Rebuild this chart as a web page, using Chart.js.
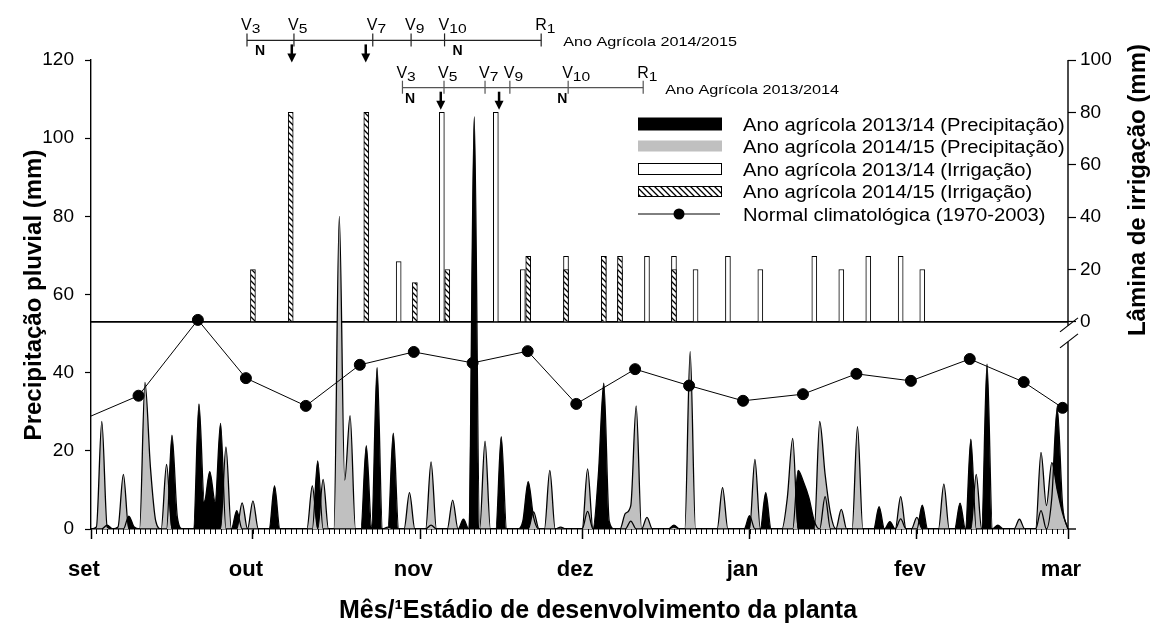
<!DOCTYPE html>
<html>
<head>
<meta charset="utf-8">
<script src="https://cdn.jsdelivr.net/npm/chart.js@4.4.1/dist/chart.umd.min.js"></script>
<style>
  body { margin: 0; background: #fff; }
  #wrap { width: 1168px; height: 628px; }
</style>
</head>
<body>
<div id="wrap"><canvas id="chart" width="1168" height="628"></canvas></div>
<script>
// x axis = days counted from 1 September (0) to 1 March (181)
const monthDays = [0, 30, 61, 91, 122, 153, 181];
const monthLabels = ['set', 'out', 'nov', 'dez', 'jan', 'fev', 'mar'];

// daily rainfall (mm), one row per month
const precip1314 = [
  0,0,0,1,0,0,0,3.3,0.5,0,0,0,0,0,0,24,3,0,0,0,32,7,14.7,7,27,0,0,4.7,0,0,             // set
  0,0,0,0,11,0,0,0,0,0,0,0,17.4,0,0,0,0,0,0,0,0,21.3,0.5,41.3,0,0,24.5,0,0,0,0,        // out
  0,0,1,0,0,0,0,0,2.5,0,105.5,0,0,0,0,23.6,0,0,0,2,12.1,3,0,0,0,0,0,0,0,0,             // nov
  0,4.5,0,14,37.3,2,0,0,0,2,0,0,0,0,0,0,0,1,0,0,0,0,0,0,0,0,0,0,0,0,0,                 // dez
  3.4,0,0,9.3,0,0,0,0,0,15,12,8,2,0,8.3,0,0,0,0,0,0,0,0,0,5.7,0,1.9,0,2.6,0,0,         // jan
  0,6.1,0,0,0,0,0,0,6.6,0,23,0,0,42.2,0,1,0,0,0,0,0,0,0,4.7,0,8,31,6,                  // fev
  0                                                                                  // mar
];
const precip1415 = [
  0,0.5,27.5,0.5,0,0.5,14,0,0,0,37.5,16,2,0,16.5,0,0,0,0,0,0,0,0,0,0,21,0,0,6.7,0,     // set
  7.2,0,0,0,0,0,0,0,0,0,0,11,0,12.7,0,0,80,12.5,29,0,0,0,0,0,0,0.5,0,0,0,9.3,0,        // out
  0,0,17.2,0,0,0,7.4,0,0,0,0,0,22.5,0,0,0,0,0,0,0,0,4.4,0,0,15,0,0.5,0,0,0,            // nov
  0,15.4,0,0,0,0,0,0,4,6,31.5,0,3,0,0,0,0,0.5,0,0,45.4,0,0,0,0,0,10.6,0,0,0,0,         // dez
  0,17.8,0,0,0,0,0,8,23.2,0,0,0,0,27.5,14,4,0,5,0,0,26.2,0,0,0,0,0,0,0,8.3,0,0,        // jan
  3,0,0,0,0,11.5,0,0,0,0,0,14,0,0,0,0,0,0,0,2.5,0,0,0,19.6,6,17,10,4,                  // fev
  0                                                                                  // mar
];

// irrigation depth (mm)
const irrig1314Days = [57, 65, 75, 80, 88, 95, 98, 103, 108, 112, 118, 124, 134, 139, 144, 150, 154];
const irrig1314Vals = [23, 80, 80, 20, 25, 25, 20, 25, 25, 20, 25, 20, 25, 20, 25, 25, 20];
const irrig1415Days = [30, 37, 51, 60, 66, 81, 88, 95, 98, 108];
const irrig1415Vals = [20, 80, 80, 15, 20, 25, 20, 25, 25, 20];

// climatological normal 1970-2003, by ten-day period
const normalDays = [0, 8.8, 19.8, 28.7, 39.8, 49.8, 59.8, 70.7, 80.9, 89.9, 100.8, 110.8, 120.8, 131.9, 141.8, 151.9, 162.8, 172.8, 180];
const normalVals = [28.9, 34.1, 53.5, 38.6, 31.5, 42.0, 45.3, 42.5, 45.5, 32.0, 40.9, 36.7, 32.8, 34.5, 39.7, 37.9, 43.5, 37.6, 31.0];

// phenological stages (day positions)
const stageLabels = ['V3', 'V5', 'V7', 'V9', 'V10', 'R1'];
const stages1415 = [28.9, 37.6, 52.2, 59.3, 65.5, 83.4];
const stages1314 = [57.7, 65.4, 73.0, 77.6, 88.4, 102.3];
const arrows1415 = [37.2, 50.9];
const arrows1314 = [64.8, 75.6];
const nDays1415 = [31.3, 67.9];
const nDays1314 = [59.1, 87.3];

const leftTicks = [0, 20, 40, 60, 80, 100, 120];
const irrigTicks = [0, 20, 40, 60, 80, 100];
const BREAK_AT = 53;  // left-axis value where the irrigation axis starts
const Y2_MIN = -100 * BREAK_AT / (120 - BREAK_AT);

const FONT = "'Liberation Sans', Arial, Helvetica, sans-serif";

const toXY = (days, vals) => days.map((d, i) => ({x: d, y: vals[i]}));
const daily = vals => vals.map((v, i) => ({x: i, y: v}));

// hatch pattern for 2014/15 irrigation
function makeHatch() {
  const c = document.createElement('canvas');
  c.width = 6; c.height = 6;
  const g = c.getContext('2d');
  g.fillStyle = '#fff'; g.fillRect(0, 0, 6, 6);
  g.strokeStyle = '#000'; g.lineWidth = 1.3;
  g.beginPath();
  g.moveTo(-6, 0); g.lineTo(6, 12);
  g.moveTo(-1, -1); g.lineTo(7, 7);
  g.moveTo(0, -6); g.lineTo(12, 6);
  g.stroke();
  return g.createPattern(c, 'repeat');
}
const hatch = makeHatch();

function text(ctx, str, x, y, font, sx, align) {
  ctx.save();
  ctx.font = font;
  ctx.textAlign = align || 'left';
  ctx.textBaseline = 'alphabetic';
  ctx.translate(x, y);
  ctx.scale(sx || 1, 1);
  ctx.fillText(str, 0, 0);
  ctx.restore();
}

function line(ctx, x1, y1, x2, y2) {
  ctx.beginPath(); ctx.moveTo(x1, y1); ctx.lineTo(x2, y2); ctx.stroke();
}

function drawStages(ctx, xs, days, lineY, arrows, nDays, label, color) {
  const px = days.map(d => xs.getPixelForValue(d));
  ctx.strokeStyle = color; ctx.lineWidth = 1.2;
  line(ctx, px[0], lineY, px[px.length - 1], lineY);
  ctx.fillStyle = '#000';
  px.forEach((x, i) => {
    line(ctx, x, lineY - 7, x, lineY + 6);
    const l = stageLabels[i];
    const lx = x - 6;
    text(ctx, l[0], lx, lineY - 10, '16px ' + FONT);
    ctx.font = '16px ' + FONT;
    const w = ctx.measureText(l[0]).width;
    text(ctx, l.slice(1), lx + w, lineY - 7, '13px ' + FONT, 1.2);
  });
  arrows.forEach(d => {
    const x = xs.getPixelForValue(d);
    ctx.strokeStyle = '#000'; ctx.lineWidth = 2.5;
    line(ctx, x, lineY + 4, x, lineY + 15);
    ctx.beginPath();
    ctx.moveTo(x - 4.5, lineY + 13); ctx.lineTo(x + 4.5, lineY + 13); ctx.lineTo(x, lineY + 22);
    ctx.closePath(); ctx.fill();
  });
  nDays.forEach(d => {
    text(ctx, 'N', xs.getPixelForValue(d), lineY + 15, 'bold 14px ' + FONT, 1, 'center');
  });
  text(ctx, label, px[px.length - 1] + 22, lineY + 6, '13.5px ' + FONT, 1.2);
}

const overlay = {
  id: 'overlay',
  beforeDraw(chart) {
    const {ctx, chartArea: a, scales} = chart;
    const by = scales.y.getPixelForValue(BREAK_AT);
    ctx.save();
    ctx.strokeStyle = '#000'; ctx.lineWidth = 1.6;
    line(ctx, a.left, by, a.right, by);
    ctx.restore();
  },
  afterDraw(chart) {
    const {ctx, chartArea: a, scales} = chart;
    const xs = scales.x;
    ctx.save();
    ctx.strokeStyle = '#000'; ctx.fillStyle = '#000';

    // daily minor ticks
    ctx.lineWidth = 1;
    for (let d = 0; d <= 181; d++) {
      const x = Math.round(xs.getPixelForValue(d)) + 0.5;
      line(ctx, x, a.bottom, x, a.bottom + 5);
    }

    // right (irrigation) axis with break
    const by = scales.y.getPixelForValue(BREAK_AT);
    const top = scales.y2.getPixelForValue(100);
    ctx.lineWidth = 1.4;
    line(ctx, a.right, top, a.right, by + 4);
    line(ctx, a.right, by + 20, a.right, a.bottom);
    line(ctx, a.right, a.bottom, a.right + 8, a.bottom);
    ctx.lineWidth = 1.2;
    line(ctx, a.right - 8, by + 10, a.right + 10, by - 4);
    line(ctx, a.right - 8, by + 26, a.right + 10, by + 12);

    // stage timelines
    drawStages(ctx, xs, stages1415, 40.4, arrows1415, nDays1415, 'Ano Agrícola 2014/2015', '#222');
    drawStages(ctx, xs, stages1314, 87.7, arrows1314, nDays1314, 'Ano Agrícola 2013/2014', '#555');

    // legend
    const lx = 638, lw = 84, tx = 743;
    const rows = [124, 146, 169, 191.5, 214];
    ctx.fillStyle = '#000';
    ctx.fillRect(lx, rows[0] - 6.5, lw, 13);
    ctx.fillStyle = '#c0c0c0';
    ctx.fillRect(lx, rows[1] - 5.5, lw, 11);
    ctx.fillStyle = '#fff'; ctx.lineWidth = 1;
    ctx.fillRect(lx, rows[2] - 6, lw, 12);
    ctx.strokeRect(lx + 0.5, rows[2] - 6 + 0.5, lw - 1, 11);
    ctx.fillStyle = hatch;
    ctx.fillRect(lx, rows[3] - 5.5, lw, 11);
    ctx.strokeRect(lx + 0.5, rows[3] - 5.5 + 0.5, lw - 1, 10);
    ctx.lineWidth = 1;
    line(ctx, lx, rows[4], lx + lw - 2, rows[4]);
    ctx.fillStyle = '#000';
    ctx.beginPath(); ctx.arc(lx + 41, rows[4], 5.5, 0, Math.PI * 2); ctx.fill();
    const legendText = [
      'Ano agrícola 2013/14 (Precipitação)',
      'Ano agrícola 2014/15 (Precipitação)',
      'Ano agrícola 2013/14 (Irrigação)',
      'Ano agrícola 2014/15 (Irrigação)',
      'Normal climatológica (1970-2003)'
    ];
    legendText.forEach((t, i) => text(ctx, t, tx, rows[i] + 6.5, '18px ' + FONT, 1.12));

    // axis titles
    ctx.fillStyle = '#000';
    ctx.save();
    ctx.translate(33, 295); ctx.rotate(-Math.PI / 2);
    text(ctx, 'Precipitação pluvial (mm)', 0, 8, 'bold 24px ' + FONT, 1, 'center');
    ctx.restore();
    ctx.save();
    ctx.translate(1137, 190); ctx.rotate(-Math.PI / 2);
    text(ctx, 'Lâmina de irrigação (mm)', 0, 8, 'bold 24px ' + FONT, 1, 'center');
    ctx.restore();
    text(ctx, 'Mês/¹Estádio de desenvolvimento da planta', 598, 618, 'bold 25px ' + FONT, 1, 'center');

    ctx.restore();
  }
};

new Chart(document.getElementById('chart'), {
  type: 'line',
  data: {
    datasets: [
      {
        label: 'Normal climatológica (1970-2003)',
        data: toXY(normalDays, normalVals),
        yAxisID: 'y',
        borderColor: '#000', borderWidth: 1,
        pointRadius: normalDays.map((d, i) => i === 0 ? 0 : 5.5),
        pointBackgroundColor: '#000', pointBorderColor: '#000',
        fill: false, tension: 0
      },
      {
        type: 'bar',
        label: 'Ano agrícola 2014/15 (Irrigação)',
        data: toXY(irrig1415Days, irrig1415Vals),
        yAxisID: 'y2',
        backgroundColor: hatch, borderColor: '#000', borderWidth: 1,
        barThickness: 5, grouped: false
      },
      {
        type: 'bar',
        label: 'Ano agrícola 2013/14 (Irrigação)',
        data: toXY(irrig1314Days, irrig1314Vals),
        yAxisID: 'y2',
        backgroundColor: '#fff', borderColor: '#000', borderWidth: 1,
        barThickness: 5, grouped: false
      },
      {
        label: 'Ano agrícola 2014/15 (Precipitação)',
        data: daily(precip1415),
        yAxisID: 'y',
        borderColor: '#000', borderWidth: 1.3,
        backgroundColor: '#c0c0c0',
        fill: 'origin', pointRadius: 0,
        cubicInterpolationMode: 'monotone'
      },
      {
        label: 'Ano agrícola 2013/14 (Precipitação)',
        data: daily(precip1314),
        yAxisID: 'y',
        borderColor: '#000', borderWidth: 1.3,
        backgroundColor: '#000',
        fill: 'origin', pointRadius: 0,
        cubicInterpolationMode: 'monotone'
      }
    ]
  },
  options: {
    responsive: false,
    animation: false,
    layout: { padding: { top: 60, left: 0, right: 0, bottom: 0 } },
    plugins: {
      legend: { display: false },
      tooltip: { enabled: false },
      filler: { drawTime: 'beforeDatasetsDraw' }
    },
    scales: {
      x: {
        type: 'linear', min: 0, max: 181, offset: false,
        afterBuildTicks: s => { s.ticks = monthDays.map(v => ({value: v})); },
        afterFit: s => { s.height = 99; },
        grid: { offset: false, drawOnChartArea: false, tickLength: 10, tickColor: '#000', tickWidth: 1.5 },
        border: { display: true, color: '#000', width: 1.5 },
        ticks: {
          callback: (v, i) => monthLabels[i],
          autoSkip: false, maxRotation: 0, labelOffset: -7, padding: 18,
          color: '#000', font: { family: FONT, size: 22, weight: 'bold' }
        }
      },
      y: {
        position: 'left', min: 0, max: 120,
        afterBuildTicks: s => { s.ticks = leftTicks.map(v => ({value: v})); },
        afterFit: s => { s.width = 91; },
        grid: { drawOnChartArea: false, tickLength: 6, tickColor: '#000', tickWidth: 1.2 },
        border: { display: true, color: '#000', width: 1.4 },
        ticks: { color: '#000', padding: 11, font: { family: FONT, size: 19 } }
      },
      y2: {
        position: 'right', min: Y2_MIN, max: 100,
        afterBuildTicks: s => { s.ticks = irrigTicks.map(v => ({value: v})); },
        afterFit: s => { s.width = 100; },
        grid: { drawOnChartArea: false, tickLength: 8, tickColor: '#000', tickWidth: 1.2 },
        border: { display: false },
        ticks: { color: '#000', padding: 4, font: { family: FONT, size: 19 } }
      }
    }
  },
  plugins: [overlay]
});
</script>
</body>
</html>
